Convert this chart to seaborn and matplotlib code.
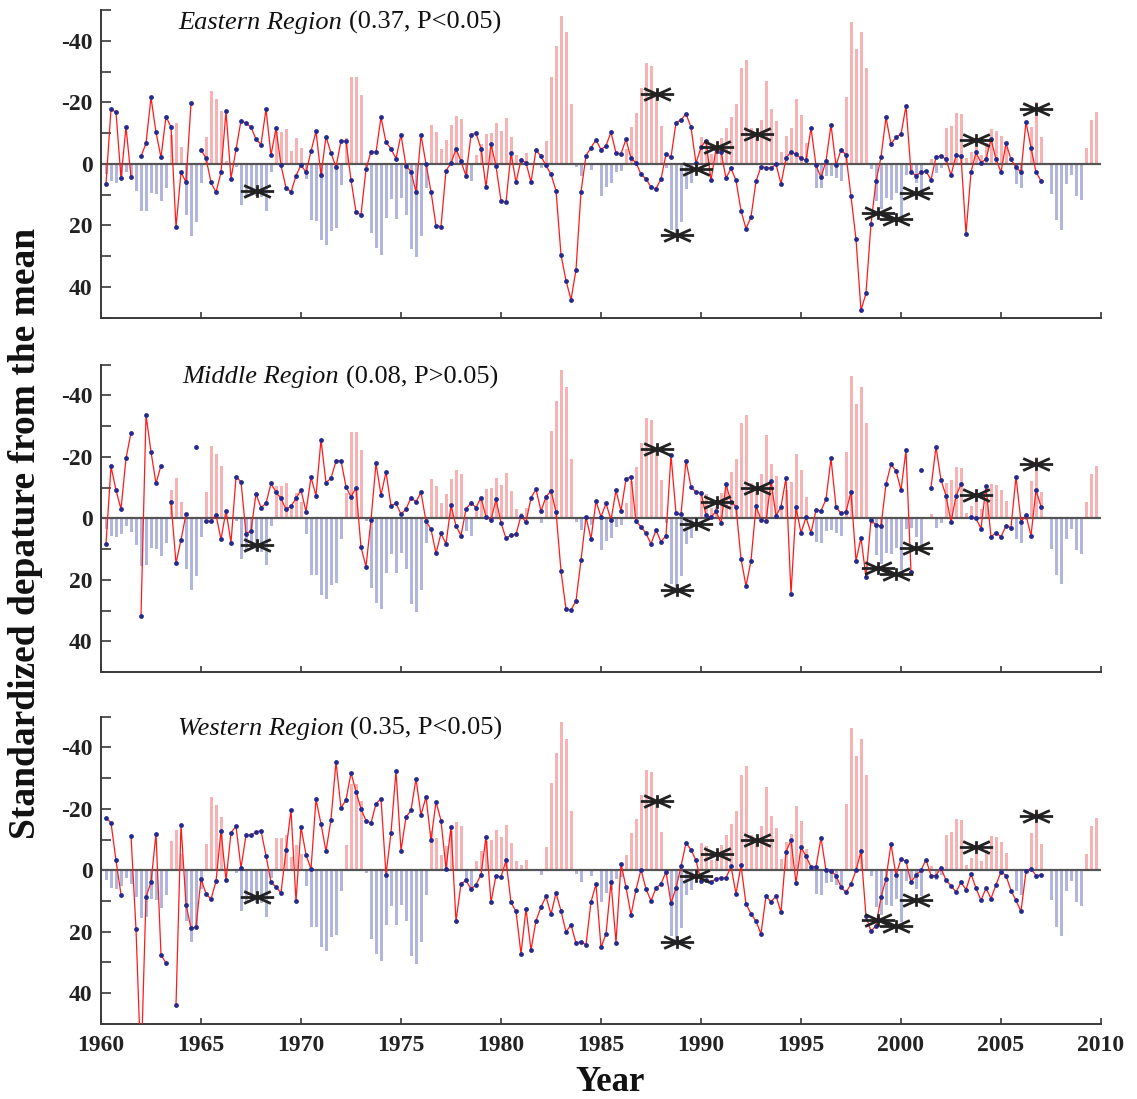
import numpy as np
import pandas as pd
import matplotlib
matplotlib.use("Agg")
import matplotlib.pyplot as plt
from matplotlib.path import Path
import seaborn as sns

# ---------------- data (quarterly, 1960.00 + 0.25*k) ----------------
bar_index = [
    0, 3.3, 5.7, 6.1, 5.2, 2.5, 4.3, 8.7, 15.5, 15.2,
    9.5, 9.8, 12.2, 7.9, -9.4, -13.2, -5.4, 16.6, 23.4, 18.8,
    6.1, -8.6, -23.7, -21.1, -17.2, -0.8, 0, 0.9, 13.3, 10.6,
    9.5, 10.6, 10.8, 15.2, 2.5, -10.5, -10.5, -11.4, -4.3, -8.3,
    -5.3, 5.0, 18.4, 18.5, 24.9, 26.3, 21.7, 20.9, 6.8, -8.3,
    -28.2, -28.2, -22.4, 1.0, 22.5, 27.4, 29.6, 17.7, 11.5, 17.9,
    11.2, 16.6, 27.8, 30.4, 23.4, 7.9, -12.7, -10.5, -4.9, -7.8,
    -12.7, -15.7, -14.5, 4.1, 5.7, -2.9, -6.4, -9.6, -10.0, -13.2,
    -10.8, -14.9, -8.9, -2.9, -1.8, -3.5, 0, 0, 1.4, -7.5,
    -28.4, -38.2, -48.2, -42.8, -19.4, 1.1, 3.8, 0, 2.0, 0,
    10.4, 7.4, 6.3, 2.8, 2.2, -4.9, -12.1, -16.7, -24.6, -32.7,
    -31.9, -22.0, -12.4, 1.4, 21.5, 23.0, 18.8, 8.2, 6.3, 0,
    -8.9, -7.8, -3.3, -3.7, -8.3, -11.6, -15.2, -19.4, -31.1, -33.8,
    -11.6, -10.5, -14.3, -27.1, -17.8, -13.8, -3.8, -9.1, -11.8, -21.0,
    -15.9, -6.9, 0, 7.7, 7.9, 4.1, 3.9, 4.7, 5.7, -21.6,
    -46.3, -37.3, -42.8, -31.1, 1.7, 12.0, 14.7, 11.2, 11.7, 9.5,
    16.9, 3.6, 3.0, 6.1, 8.5, 0, -1.5, 3.0, 1.4, -11.6,
    -12.4, -16.7, -16.3, -1.8, -4.0, -5.6, -2.9, -6.7, -11.3, -10.8,
    -9.1, -5.6, 0, 6.6, 7.9, 0.5, -12.1, -20.0, -8.7, 0,
    9.8, 18.4, 21.5, 6.6, 3.6, 10.4, 11.7, -5.3, -14.3, -17.0,
]

nan = float("nan")
eastern = [
    nan, 6.5, -17.8, -16.8, 4.6, -12.0, 4.2, nan, -2.4, -6.7,
    -21.6, -10.3, -2.1, -15.4, -12.0, 20.7, 2.7, 6.0, -19.7, nan,
    -4.6, -1.8, 6.0, 9.3, 2.8, -17.1, 4.8, -4.7, -14.1, -13.2,
    -12.0, -8.0, -6.3, -17.8, -2.8, -11.6, 0.5, 7.7, 9.2, 3.9,
    0.3, 2.8, -4.1, -10.6, 3.7, -8.9, -3.5, 1.0, -7.5, -7.3,
    5.2, 15.6, 16.6, 1.7, -4.0, -3.8, -15.2, -7.0, -4.9, -1.7,
    -9.5, 0.7, 2.5, 9.2, -9.4, 0, 9.0, 20.1, 20.4, 2.2,
    -0.2, -4.9, -0.8, 3.9, -9.4, -10.0, -4.9, 7.6, -6.4, 0.7,
    12.0, 12.5, -3.5, 6.0, -1.3, -0.4, 6.0, -4.6, -2.4, 0.5,
    3.4, 8.7, 29.6, 38.0, 44.2, 34.5, 9.2, -2.7, -5.3, -7.8,
    -4.6, -5.9, -10.3, -3.5, -3.3, -8.0, -1.8, -0.4, 3.4, 4.9,
    7.6, 8.1, 4.9, -3.1, -2.2, -13.4, -14.3, -16.3, -11.9, -0.2,
    -5.4, -7.6, 5.4, -4.9, -4.0, 4.7, 1.4, 5.4, 15.2, 21.1,
    17.3, 5.7, 0.9, 1.2, 1.4, 0.1, 6.5, -1.8, -4.0, -3.1,
    -1.8, -1.1, -11.7, 0.5, 4.4, -0.9, -12.7, 0.5, -4.6, -2.9,
    10.6, 24.5, 47.7, 42.1, 19.5, 5.7, -2.2, -15.1, -6.4, -8.7,
    -9.6, -18.9, 2.7, 3.8, 2.8, 2.4, 5.2, -2.2, -2.6, -1.5,
    3.7, -2.8, -2.4, 22.8, 2.7, -3.7, -0.4, -1.5, -8.1, -1.5,
    2.7, -6.7, -1.5, 1.1, 2.7, -13.7, -5.2, 2.7, 5.5,
]
middle = [
    nan, 8.3, -16.9, -9.2, -3.0, -19.5, -27.9, nan, 31.7, -33.6,
    -21.7, -11.4, -17.2, nan, -5.2, 14.6, 7.0, -1.4, nan, -23.1,
    nan, 0.9, 0.9, -1.1, 6.8, -2.5, 7.9, -13.4, -12.0, 5.1,
    4.0, -8.0, -3.5, -4.9, -11.4, -8.5, -6.5, -2.9, -4.0, -6.5,
    -9.2, -2.2, -13.4, -7.4, -25.6, -11.6, -13.1, -18.6, -18.8, -10.3,
    -7.0, -10.0, 9.4, 15.7, 0.5, -17.9, -7.6, -15.1, -4.1, -4.9,
    -1.4, -3.0, -6.8, -5.4, -8.5, 0.9, 3.5, 11.4, 4.9, 8.3,
    -4.2, 2.4, 5.6, -3.0, -5.1, -3.5, -6.8, -0.5, 0.5, -6.2,
    1.4, 6.5, 5.4, 5.2, -0.9, 1.3, -6.7, -9.5, -2.4, -7.0,
    -9.0, -2.2, 17.1, 29.6, 29.8, 26.8, 13.6, -0.5, 6.7, -5.6,
    -0.5, -4.9, 0.5, -9.2, -2.4, -12.8, -13.6, 1.0, 2.7, 4.9,
    8.3, 3.8, 7.6, 5.6, -20.6, -1.6, -1.3, -18.8, -10.3, -8.5,
    -8.4, -1.0, -0.3, -2.4, 1.6, -11.1, -5.4, -3.8, 13.1, 22.0,
    13.8, -4.0, 0.4, 1.0, -12.2, -0.8, -3.8, -13.2, 24.6, -3.6,
    4.7, -0.3, 4.7, -2.7, -2.5, -6.2, -19.6, -3.8, -1.6, -2.2,
    -8.6, 13.8, 6.3, 19.2, 0.5, 2.2, 2.5, -11.1, -17.6, -15.5,
    -9.2, -22.2, 17.6, nan, -15.7, nan, -10.0, -23.3, -12.5, -7.4,
    1.2, -7.2, -11.2, nan, -0.5, 0, 3.3, -10.5, 6.0, 4.6,
    6.0, 2.4, 3.0, -13.6, 1.1, -1.0, 5.6, -9.2, -3.8,
]
western = [
    nan, -17.1, -15.5, -3.2, 7.9, nan, -11.3, 19.2, 65.0, 8.7,
    3.9, -11.9, 27.5, 30.2, nan, 43.9, -14.9, 11.2, 18.8, 18.5,
    2.8, 7.6, 9.4, 3.6, -12.9, 3.3, -12.2, -14.4, -0.8, -11.4,
    -11.4, -12.4, -12.9, -4.8, 3.9, 5.4, 7.4, -6.5, -19.6, 10.1,
    -14.1, -5.1, -0.4, -23.1, -15.1, -6.2, -16.5, -35.3, -20.3, -22.9,
    -31.7, -25.6, -20.0, -16.2, -15.3, -21.7, -23.3, 1.4, -12.2, -32.3,
    -6.4, -17.3, -19.5, -29.8, -18.0, -23.9, -9.8, -22.3, -16.2, -0.5,
    -14.1, 16.6, 4.4, 3.3, 6.1, 4.7, 1.4, -10.9, 10.4, 1.7,
    2.2, -3.2, 10.4, 13.4, 27.2, 12.5, 25.9, 16.4, 12.0, 8.5,
    14.3, 7.4, 13.2, 20.1, 17.7, 23.7, 23.2, 24.3, 10.3, 4.5,
    25.1, 20.7, 3.9, 23.5, -2.2, 5.5, 14.5, 6.3, -0.2, 6.1,
    9.9, 5.8, 4.4, 0.5, 10.7, 5.8, -1.3, -8.9, -6.7, -3.2,
    3.6, 3.0, 3.9, 2.7, 2.5, 2.5, -1.3, 7.7, -1.6, 11.0,
    14.1, 16.6, 20.7, 8.3, 10.3, 8.3, 13.7, -6.0, -9.8, 4.1,
    -7.5, -4.6, -1.1, -1.1, -10.6, 0, 0.3, 1.7, 5.5, 7.2,
    4.5, 0, -6.2, 15.0, 19.9, 18.0, 8.8, 2.7, -8.6, 1.6,
    -3.7, -2.9, 3.9, 1.6, 0, -3.5, 1.7, 1.7, -0.8, 3.3,
    5.0, 7.1, 3.9, 6.3, 1.2, 5.8, 9.8, 5.8, 9.2, 4.7,
    0.5, 1.7, 6.6, 9.8, 13.4, 0.3, -0.5, 1.7, 1.6,
]

star_years = [1967.78, 1987.78, 1988.78, 1989.75, 1990.78, 1992.78,
              1998.85, 1999.75, 2000.75, 2003.75, 2006.75]
star_values = [8.7, -22.7, 23.2, 1.7, -5.4, -9.8, 16.1, 18.0, 9.6, -7.7, -17.8]

panel_names = ["Eastern Region", "Middle Region", "Western Region"]
panel_stats = ["(0.37, P<0.05)", "(0.08, P>0.05)", "(0.35, P<0.05)"]
year_ticks = [1960, 1965, 1970, 1975, 1980, 1985, 1990, 1995, 2000, 2005, 2010]
y_major = [-40, -20, 0, 20, 40]
y_major_labels = ["-40", "-20", "0", "20", "40"]
y_minor = [-50, -30, -10, 10, 30, 50]

# ---------------- style ----------------
sns.set_style("ticks")
SERIF = ["Liberation Serif", "DejaVu Serif"]
plt.rcParams["font.family"] = SERIF
plt.rcParams["axes.unicode_minus"] = False

PINK = "#f7b2b4"
BLUE = "#b3b6dc"
RED = "#ff1a1a"
NAVY = "#262a8c"
GREY = "#3a3a3a"

# asterisk-like marker
star_path = Path(
    [(-1, 0), (1, 0), (-0.8, -0.36), (0.8, 0.36), (-0.8, 0.36), (0.8, -0.36), (0, -0.38), (0, 0.38)],
    [Path.MOVETO, Path.LINETO] * 4,
)

fig = plt.figure(figsize=(11.37, 10.99), dpi=100)
left, width, height = 101 / 1137, 1000 / 1137, 0.2796
bottoms = [0.7111, 0.3885, 0.0683]
series = [eastern, middle, western]

t_bar = 1960 + 0.25 * np.arange(len(bar_index))
bar_vals = np.array(bar_index, dtype=float)

axes = []
for i, (vals, b) in enumerate(zip(series, bottoms)):
    ax = fig.add_axes([left, b, width, height])
    axes.append(ax)
    # bars
    pos = bar_vals > 0
    neg = bar_vals < 0
    ax.bar(t_bar[pos] + 0.02, bar_vals[pos], width=0.17, color=BLUE, zorder=1, linewidth=0)
    ax.bar(t_bar[neg] + 0.02, bar_vals[neg], width=0.17, color=PINK, zorder=1, linewidth=0)
    ax.axhline(0, color="#555555", lw=1.6, zorder=2)

    # line with gaps
    v = np.array(vals, dtype=float)
    t = 1960 + 0.25 * np.arange(len(v))
    seg = np.cumsum(np.isnan(v))
    df = pd.DataFrame({"t": t, "v": v, "seg": seg}).dropna()
    sns.lineplot(data=df, x="t", y="v", units="seg", estimator=None, sort=False,
                 color=RED, lw=0.9, ax=ax, zorder=3)
    sns.scatterplot(data=df, x="t", y="v", color=NAVY, s=12, linewidth=0, ax=ax, zorder=4)

    # asterisks
    ax.plot(star_years, star_values, ls="none", marker=star_path, ms=24,
            mec="#222222", mew=2.0, zorder=5)

    ax.set_xlim(1960, 2010)
    ax.set_ylim(50, -50)
    ax.set_xlabel("")
    ax.set_ylabel("")
    ax.set_yticks(y_major)
    ax.set_yticklabels(y_major_labels)
    ax.set_yticks(y_minor, minor=True)
    ax.set_xticks(year_ticks)
    if i == 2:
        ax.set_xticklabels([str(y) for y in year_ticks])
    else:
        ax.set_xticklabels([])
    ax.tick_params(axis="y", which="both", direction="in", length=7, width=1.2, color=GREY,
                   labelsize=17, labelcolor="#222222", pad=6)
    ax.tick_params(axis="x", which="both", direction="in", length=4, width=1.2, color=GREY,
                   labelsize=17, labelcolor="#222222", pad=8)
    for lab in ax.get_yticklabels() + ax.get_xticklabels():
        lab.set_fontweight("bold")
    sns.despine(ax=ax)
    for s in ["left", "bottom"]:
        ax.spines[s].set_color(GREY)
        ax.spines[s].set_linewidth(1.4)

# titles with mixed styles, centred at x=340 px
fig.canvas.draw()
r = fig.canvas.get_renderer()
for ax, name, stat in zip(axes, panel_names, panel_stats):
    t1 = ax.text(0, 0.96, name, transform=ax.transAxes, fontstyle="italic", fontsize=19,
                 va="center", ha="left", color="#111111")
    t2 = ax.text(0, 0.96, stat, transform=ax.transAxes, fontsize=19,
                 va="center", ha="left", color="#111111")
    fig.canvas.draw()
    w1 = t1.get_window_extent(r).width
    w2 = t2.get_window_extent(r).width
    gap = 7
    axw = ax.get_window_extent(r).width
    total = w1 + gap + w2
    x0 = (340 - 101 - total / 2) / axw
    t1.set_x(x0)
    t2.set_x(x0 + (w1 + gap) / axw)

fig.text(0.022, 0.515, "Standardized depature from the mean", rotation=90, fontsize=27,
         fontweight="bold", ha="center", va="center", color="#111111")
fig.text(0.5365, 0.0146, "Year", fontsize=25, fontweight="bold", ha="center", va="center",
         color="#111111")

fig.savefig("out.png", dpi=100)
